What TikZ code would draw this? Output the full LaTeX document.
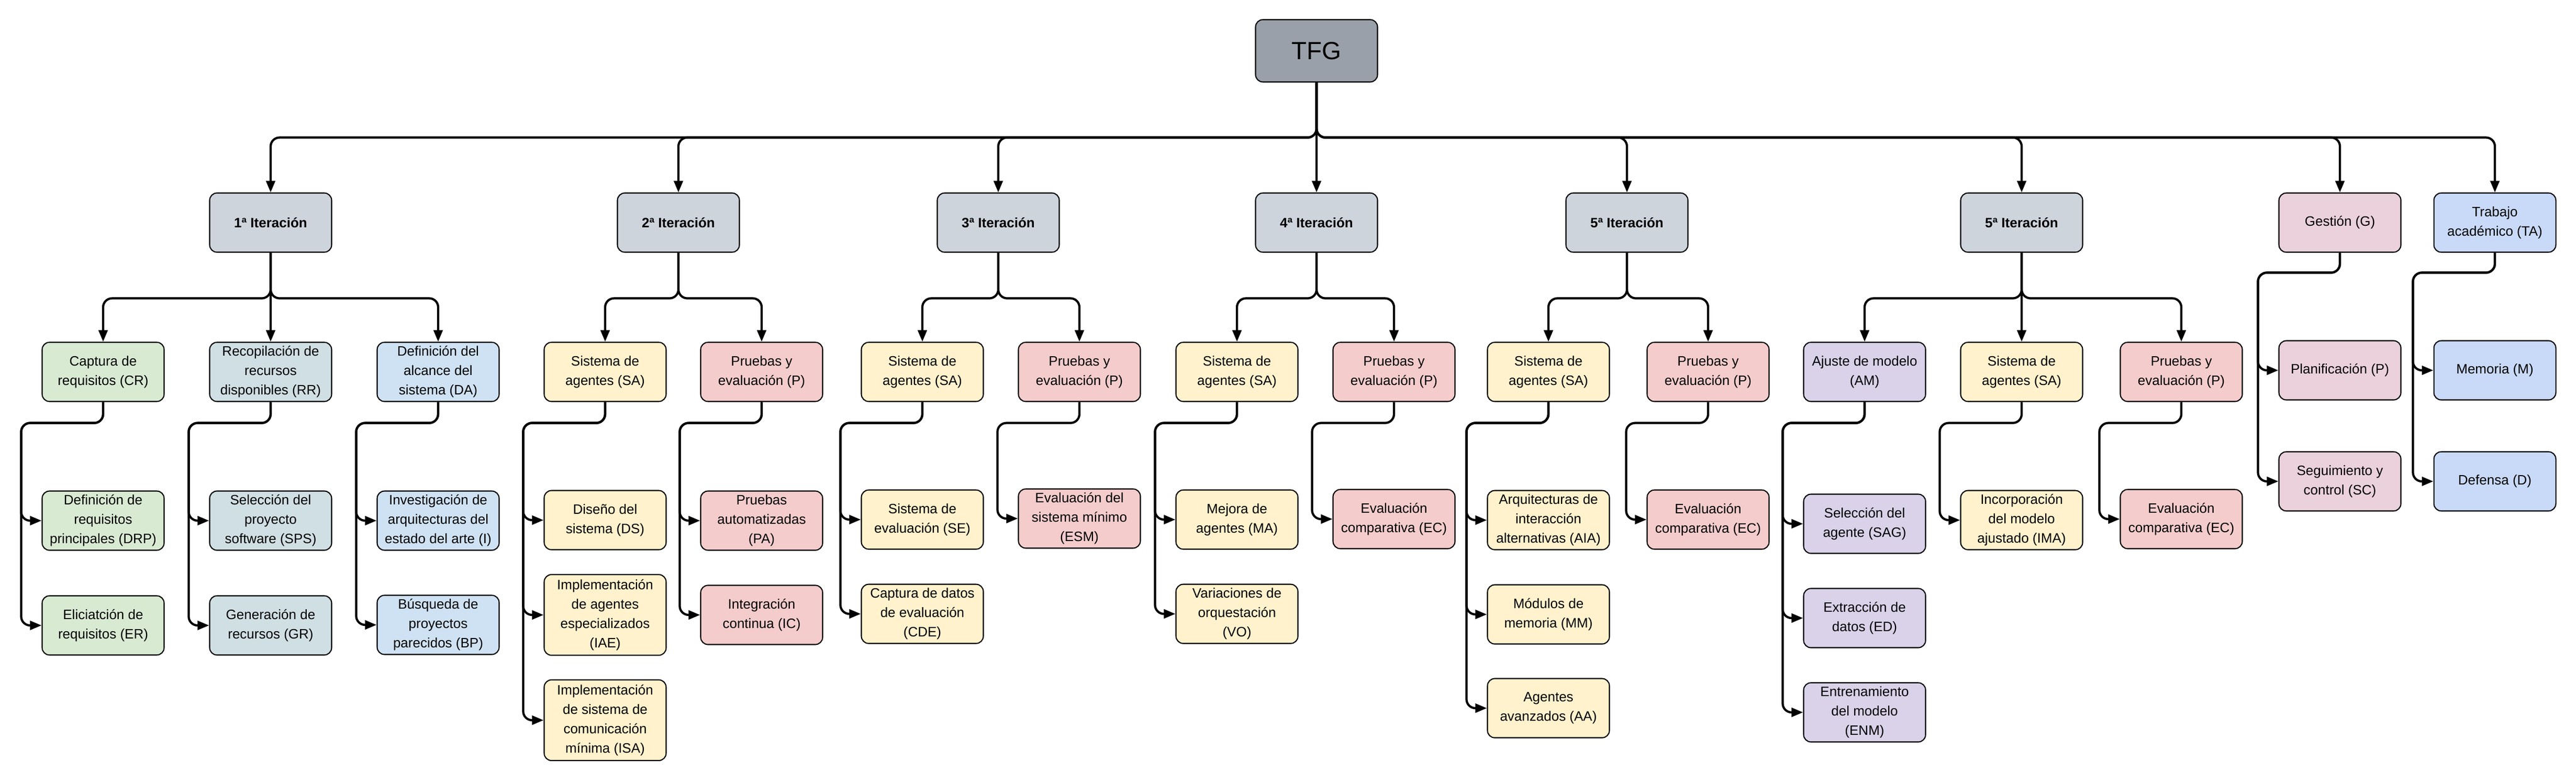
\documentclass[tikz,border=0pt]{standalone}
\usepackage{fontspec}
\setmainfont{Liberation Sans}
\usetikzlibrary{arrows.meta,calc,positioning}
\definecolor{cRaiz}{HTML}{9AA0A9}
\definecolor{cIter}{HTML}{CED4DC}
\definecolor{cVerde}{HTML}{D9EAD3}
\definecolor{cCian}{HTML}{D0DFE3}
\definecolor{cAzul}{HTML}{CFE2F3}
\definecolor{cAmarillo}{HTML}{FFF2CC}
\definecolor{cRojo}{HTML}{F4CCCC}
\definecolor{cLila}{HTML}{D9D2E9}
\definecolor{cRosa}{HTML}{EAD1DC}
\definecolor{cAcad}{HTML}{C9DAF8}
\tikzset{
    block/.style = {draw, rectangle, rounded corners=1.4mm, line width=0.6pt,
        minimum height=1.13cm, minimum width=2.33cm, inner ysep=1pt,
        align=center, font=\fontsize{7.4}{10.5}\selectfont},
    raiz/.style = {block, fill=cRaiz, minimum height=1.19cm, font=\fontsize{13.5}{16}\selectfont},
    iter/.style = {block, fill=cIter, font=\fontsize{7.4}{10.5}\selectfont\bfseries},
    verde/.style = {block, fill=cVerde},
    cian/.style = {block, fill=cCian},
    azul/.style = {block, fill=cAzul},
    agentes/.style = {block, fill=cAmarillo},
    pruebas/.style = {block, fill=cRojo},
    ajuste/.style = {block, fill=cLila},
    gestion/.style = {block, fill=cRosa},
    academico/.style = {block, fill=cAcad},
    alto/.style = {minimum height=1.54cm},
    arrow/.style = {draw, ->, line width=1.2pt, rounded corners=1.7mm},
    bajada/.style = {to path={-- ++(0,-#1) -| (\tikztotarget)}},
    lateral/.style = {to path={-- ++(0,-#1) -| ([xshift=-3.9mm]\tikztotarget.west) -- (\tikztotarget.west)}}
}

\begin{document}
\begin{tikzpicture}[auto, node distance=2cm, >={Triangle[length=2.2mm,width=1.7mm]}]
        \useasboundingbox (0,0) rectangle (49.21,-14.92);
        \node [raiz] at (25.15,-0.97) (tfg) {TFG};
        % iteraciones
        \node [iter] at (5.17,-4.25) (it1) {1ª Iteración};
        \node [iter, right of=it1, node distance=7.79cm] (it2) {2ª Iteración};
        \node [iter, right of=it2, node distance=6.11cm] (it3) {3ª Iteración};
        \node [iter, right of=it3, node distance=6.08cm] (it4) {4ª Iteración};
        \node [iter, right of=it4, node distance=5.93cm] (it5) {5ª Iteración};
        \node [iter, right of=it5, node distance=7.54cm] (it6) {5ª Iteración};
        \node [gestion, right of=it6, node distance=6.08cm] (g) {Gestión (G)};
        \node [academico, right of=g, node distance=2.96cm] (ta) {Trabajo\\académico (TA)};
        \draw [arrow] (tfg.south) to[bajada=1.05] (it1.north);
        \draw [arrow] (tfg.south) to[bajada=1.05] (it2.north);
        \draw [arrow] (tfg.south) to[bajada=1.05] (it3.north);
        \draw [arrow] (tfg) -- (it4);
        \draw [arrow] (tfg.south) to[bajada=1.05] (it5.north);
        \draw [arrow] (tfg.south) to[bajada=1.05] (it6.north);
        \draw [arrow] (tfg.south) to[bajada=1.05] (g.north);
        \draw [arrow] (tfg.south) to[bajada=1.05] (ta.north);
        % 1a iteracion
        \node [verde] at (1.97,-7.10) (cr) {Captura de\\requisitos (CR)};
        \node [cian, right of=cr, node distance=3.20cm] (rr) {Recopilación de\\recursos\\disponibles (RR)};
        \node [azul, right of=rr, node distance=3.20cm] (da) {Definición del\\alcance del\\sistema (DA)};
        \draw [arrow] (it1.south) to[bajada=0.87] (cr.north);
        \draw [arrow] (it1) -- (rr);
        \draw [arrow] (it1.south) to[bajada=0.87] (da.north);
        \node [verde, below of=cr, node distance=2.84cm] (drp) {Definición de\\requisitos\\principales (DRP)};
        \node [verde, below of=drp, node distance=2.00cm] (er) {Eliciatción de\\requisitos (ER)};
        \node [cian, below of=rr, node distance=2.84cm] (sps) {Selección del\\proyecto\\software (SPS)};
        \node [cian, below of=sps, node distance=2.00cm] (gr) {Generación de\\recursos (GR)};
        \node [azul, below of=da, node distance=2.84cm] (inv) {Investigación de\\arquitecturas del\\estado del arte (I)};
        \node [azul, below of=inv, node distance=1.99cm] (bp) {Búsqueda de\\proyectos\\parecidos (BP)};
        \draw [arrow] (cr.south) to[lateral=0.40] (drp);
        \draw [arrow] (cr.south) to[lateral=0.40] (er);
        \draw [arrow] (rr.south) to[lateral=0.40] (sps);
        \draw [arrow] (rr.south) to[lateral=0.40] (gr);
        \draw [arrow] (da.south) to[lateral=0.40] (inv);
        \draw [arrow] (da.south) to[lateral=0.40] (bp);
        % 2a iteracion
        \node [agentes] at (11.56,-7.10) (sa2) {Sistema de\\agentes (SA)};
        \node [pruebas, right of=sa2, node distance=2.99cm] (p2) {Pruebas y\\evaluación (P)};
        \draw [arrow] (it2.south) to[bajada=0.87] (sa2.north);
        \draw [arrow] (it2.south) to[bajada=0.87] (p2.north);
        \node [agentes, below of=sa2, node distance=2.83cm] (ds) {Diseño del\\sistema (DS)};
        \node [agentes, alto, below of=ds, node distance=1.81cm] (iae) {Implementación\\de agentes\\especializados\\(IAE)};
        \node [agentes, alto, below of=iae, node distance=2.01cm] (isa) {Implementación\\de sistema de\\comunicación\\mínima (ISA)};
        \node [pruebas, below of=p2, node distance=2.84cm] (pa) {Pruebas\\automatizadas\\(PA)};
        \node [pruebas, below of=pa, node distance=1.80cm] (ic) {Integración\\continua (IC)};
        \draw [arrow] (sa2.south) to[lateral=0.40] (ds);
        \draw [arrow] (sa2.south) to[lateral=0.40] (iae);
        \draw [arrow] (sa2.south) to[lateral=0.40] (isa);
        \draw [arrow] (p2.south) to[lateral=0.40] (pa);
        \draw [arrow] (p2.south) to[lateral=0.40] (ic);
        % 3a iteracion
        \node [agentes] at (17.62,-7.10) (sa3) {Sistema de\\agentes (SA)};
        \node [pruebas, right of=sa3, node distance=3.00cm] (p3) {Pruebas y\\evaluación (P)};
        \draw [arrow] (it3.south) to[bajada=0.87] (sa3.north);
        \draw [arrow] (it3.south) to[bajada=0.87] (p3.north);
        \node [agentes, below of=sa3, node distance=2.82cm] (se) {Sistema de\\evaluación (SE)};
        \node [agentes, below of=se, node distance=1.80cm] (cde) {Captura de datos\\de evaluación\\(CDE)};
        \node [pruebas, below of=p3, node distance=2.80cm] (esm) {Evaluación del\\sistema mínimo\\(ESM)};
        \draw [arrow] (sa3.south) to[lateral=0.40] (se);
        \draw [arrow] (sa3.south) to[lateral=0.40] (cde);
        \draw [arrow] (p3.south) to[lateral=0.40] (esm);
        % 4a iteracion
        \node [agentes] at (23.63,-7.10) (sa4) {Sistema de\\agentes (SA)};
        \node [pruebas, right of=sa4, node distance=3.00cm] (p4) {Pruebas y\\evaluación (P)};
        \draw [arrow] (it4.south) to[bajada=0.87] (sa4.north);
        \draw [arrow] (it4.south) to[bajada=0.87] (p4.north);
        \node [agentes, below of=sa4, node distance=2.82cm] (ma) {Mejora de\\agentes (MA)};
        \node [agentes, below of=ma, node distance=1.80cm] (vo) {Variaciones de\\orquestación\\(VO)};
        \node [pruebas, below of=p4, node distance=2.81cm] (ec4) {Evaluación\\comparativa (EC)};
        \draw [arrow] (sa4.south) to[lateral=0.40] (ma);
        \draw [arrow] (sa4.south) to[lateral=0.40] (vo);
        \draw [arrow] (p4.south) to[lateral=0.40] (ec4);
        % 5a iteracion
        \node [agentes] at (29.58,-7.10) (sa5) {Sistema de\\agentes (SA)};
        \node [pruebas, right of=sa5, node distance=3.05cm] (p5) {Pruebas y\\evaluación (P)};
        \draw [arrow] (it5.south) to[bajada=0.87] (sa5.north);
        \draw [arrow] (it5.south) to[bajada=0.87] (p5.north);
        \node [agentes, below of=sa5, node distance=2.83cm] (aia) {Arquitecturas de\\interacción\\alternativas (AIA)};
        \node [agentes, below of=aia, node distance=1.80cm] (mm) {Módulos de\\memoria (MM)};
        \node [agentes, below of=mm, node distance=1.79cm] (aa) {Agentes\\avanzados (AA)};
        \node [pruebas, below of=p5, node distance=2.82cm] (ec5) {Evaluación\\comparativa (EC)};
        \draw [arrow] (sa5.south) to[lateral=0.40] (aia);
        \draw [arrow] (sa5.south) to[lateral=0.40] (mm);
        \draw [arrow] (sa5.south) to[lateral=0.40] (aa);
        \draw [arrow] (p5.south) to[lateral=0.40] (ec5);
        % ultima iteracion
        \node [ajuste] at (35.62,-7.10) (am) {Ajuste de modelo\\(AM)};
        \node [agentes, right of=am, node distance=3.00cm] (sa6) {Sistema de\\agentes (SA)};
        \node [pruebas, right of=sa6, node distance=3.05cm] (p6) {Pruebas y\\evaluación (P)};
        \draw [arrow] (it6.south) to[bajada=0.87] (am.north);
        \draw [arrow] (it6) -- (sa6);
        \draw [arrow] (it6.south) to[bajada=0.87] (p6.north);
        \node [ajuste, below of=am, node distance=2.90cm] (sag) {Selección del\\agente (SAG)};
        \node [ajuste, below of=sag, node distance=1.80cm] (ed) {Extracción de\\datos (ED)};
        \node [ajuste, below of=ed, node distance=1.80cm] (enm) {Entrenamiento\\del modelo\\(ENM)};
        \node [agentes, below of=sa6, node distance=2.83cm] (ima) {Incorporación\\del modelo\\ajustado (IMA)};
        \node [pruebas, below of=p6, node distance=2.81cm] (ec6) {Evaluación\\comparativa (EC)};
        \draw [arrow] (am.south) to[lateral=0.40] (sag);
        \draw [arrow] (am.south) to[lateral=0.40] (ed);
        \draw [arrow] (am.south) to[lateral=0.40] (enm);
        \draw [arrow] (sa6.south) to[lateral=0.40] (ima);
        \draw [arrow] (p6.south) to[lateral=0.40] (ec6);
        % gestion y trabajo academico
        \node [gestion, below of=g, node distance=2.82cm] (pl) {Planificación (P)};
        \node [gestion, below of=pl, node distance=2.12cm] (sc) {Seguimiento y\\control (SC)};
        \node [academico, below of=ta, node distance=2.82cm] (me) {Memoria (M)};
        \node [academico, below of=me, node distance=2.12cm] (de) {Defensa (D)};
        \draw [arrow] (g.south) to[lateral=0.38] (pl);
        \draw [arrow] (g.south) to[lateral=0.38] (sc);
        \draw [arrow] (ta.south) to[lateral=0.38] (me);
        \draw [arrow] (ta.south) to[lateral=0.38] (de);
    \end{tikzpicture}
\end{document}
